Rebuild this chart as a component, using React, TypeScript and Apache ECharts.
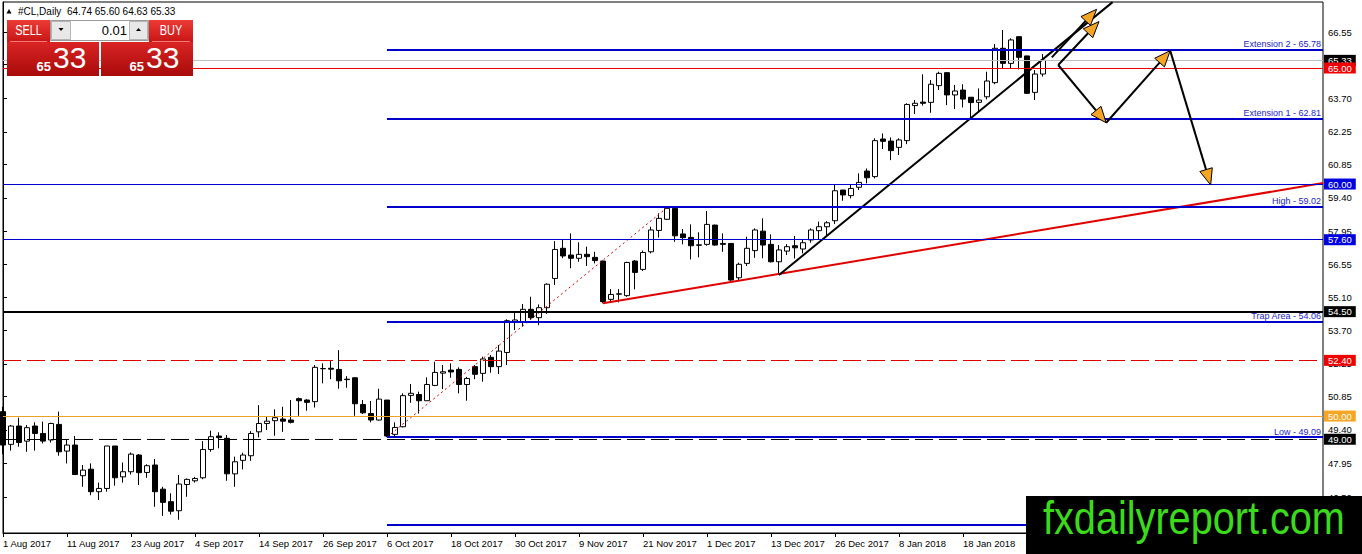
import React, { useEffect, useRef } from "react";
import * as echarts from "echarts";

// ---------- data ----------
const symbolName = "#CL,Daily";
const lotSize = "0.01";

const xTickLabels = [
  "1 Aug 2017", "11 Aug 2017", "23 Aug 2017", "4 Sep 2017", "14 Sep 2017", "26 Sep 2017",
  "6 Oct 2017", "18 Oct 2017", "30 Oct 2017", "9 Nov 2017", "21 Nov 2017", "1 Dec 2017",
  "13 Dec 2017", "26 Dec 2017", "8 Jan 2018", "18 Jan 2018",
];
const barsPerLabel = 8;
const slotCount = 166; // bars plus empty right-side space

const opens = [
  50.19, 48.78, 49.57, 48.92, 49.57, 49.25, 48.97, 49.64, 48.49, 48.75,
  47.43, 47.71, 46.74, 46.88, 48.71, 47.38, 47.60, 48.32, 47.57, 47.89,
  46.85, 46.31, 45.92, 47.05, 47.21, 47.34, 48.56, 49.14, 49.04, 47.51,
  48.09, 48.29, 49.32, 49.68, 49.80, 49.87, 49.83, 50.75, 50.69, 50.62,
  52.04, 52.06, 52.01, 51.59, 51.65, 50.50, 50.11, 49.83, 50.69, 49.21,
  49.54, 50.89, 50.93, 50.66, 51.32, 51.85, 51.98, 52.01, 51.36, 52.13,
  51.84, 52.53, 52.13, 52.74, 54.05, 54.07, 54.60, 54.24, 54.67, 55.93,
  57.23, 56.94, 56.80, 56.97, 56.84, 56.68, 55.03, 55.25, 55.19, 56.68,
  56.32, 57.08, 58.00, 58.48, 58.95, 57.85, 57.70, 57.36, 57.40, 58.23,
  57.44, 57.44, 55.96, 56.58, 57.13, 57.97, 57.40, 56.65, 57.11, 57.34,
  57.20, 57.59, 57.99, 58.16, 58.42, 59.74, 59.50, 59.86, 60.56, 60.32,
  61.94, 61.85, 61.58, 61.87, 63.38, 63.53, 63.52, 64.24, 64.80, 63.84,
  64.05, 63.74, 63.52, 63.76, 64.37, 65.85, 65.20, 66.35, 65.52, 63.95,
  64.74,
];
const highs = [
  50.40, 49.61, 49.93, 49.61, 49.73, 49.76, 49.71, 50.19, 48.97, 49.14,
  47.89, 47.96, 47.13, 48.71, 48.71, 48.00, 48.43, 48.36, 47.92, 48.15,
  46.95, 46.67, 47.46, 47.31, 47.38, 48.92, 49.37, 49.30, 49.18, 48.25,
  48.42, 49.35, 50.47, 49.97, 50.29, 50.40, 50.69, 50.80, 50.73, 52.20,
  52.27, 52.37, 52.84, 51.72, 51.67, 50.69, 50.65, 51.18, 50.69, 49.73,
  50.98, 51.38, 51.05, 51.67, 52.34, 52.20, 52.27, 52.10, 51.69, 52.20,
  52.56, 52.63, 53.06, 54.17, 54.45, 54.83, 55.14, 54.81, 55.72, 57.54,
  57.59, 57.87, 57.49, 57.30, 57.08, 56.70, 55.47, 55.47, 56.65, 56.72,
  57.13, 58.16, 58.74, 58.98, 59.02, 58.06, 58.26, 57.92, 58.84, 58.25,
  57.87, 57.45, 56.61, 57.73, 58.09, 58.52, 57.83, 57.37, 57.41, 57.76,
  57.59, 58.09, 58.38, 58.40, 59.96, 59.75, 59.96, 60.46, 60.67, 61.97,
  62.18, 62.01, 61.97, 63.48, 63.62, 64.73, 64.48, 64.84, 64.81, 64.27,
  64.30, 63.75, 64.12, 64.84, 66.03, 66.64, 66.28, 66.38, 65.53, 64.91,
  65.60,
];
const lows = [
  48.35, 48.51, 48.68, 48.46, 48.51, 48.82, 48.86, 48.29, 47.96, 47.46,
  46.95, 46.59, 46.38, 46.74, 47.00, 47.13, 47.48, 47.03, 47.34, 46.09,
  45.70, 45.76, 45.53, 46.52, 47.13, 47.28, 48.46, 48.61, 47.21, 46.95,
  47.70, 48.07, 49.08, 49.40, 49.15, 49.32, 49.68, 50.01, 50.23, 50.37,
  51.41, 51.59, 51.18, 51.22, 50.01, 50.09, 49.73, 49.81, 49.09, 49.11,
  49.51, 50.57, 50.11, 50.66, 51.29, 51.16, 51.65, 50.98, 50.66, 51.59,
  51.48, 51.87, 51.81, 52.20, 53.71, 53.85, 54.14, 53.92, 54.40, 55.65,
  56.80, 56.37, 56.65, 56.47, 56.58, 54.86, 54.90, 54.90, 55.14, 55.46,
  56.25, 57.01, 57.69, 58.45, 57.51, 57.40, 56.75, 56.84, 57.34, 57.34,
  57.08, 55.83, 55.82, 56.47, 56.82, 56.80, 56.62, 56.11, 56.94, 56.79,
  57.01, 57.47, 57.59, 57.80, 58.28, 59.28, 59.38, 59.74, 60.03, 60.24,
  61.51, 61.03, 61.25, 61.72, 63.02, 63.38, 63.07, 64.05, 63.40, 63.23,
  63.30, 62.86, 63.12, 63.65, 64.30, 64.99, 64.99, 64.94, 63.88, 63.62,
  64.63,
];
const closes = [
  48.75, 49.57, 48.86, 49.50, 49.25, 48.92, 49.68, 48.46, 48.75, 47.48,
  47.67, 46.74, 46.88, 48.71, 47.34, 47.60, 48.36, 47.56, 47.86, 46.74,
  46.28, 45.90, 47.07, 47.27, 47.31, 48.56, 49.11, 49.07, 47.51, 48.03,
  48.32, 49.25, 49.68, 49.78, 49.93, 49.78, 49.73, 50.66, 50.59, 52.10,
  52.05, 52.02, 51.52, 51.57, 50.53, 50.14, 49.83, 50.73, 49.14, 49.51,
  50.88, 50.98, 50.66, 51.36, 51.88, 51.91, 51.90, 51.36, 51.62, 51.80,
  52.46, 52.13, 52.80, 54.11, 54.14, 54.60, 54.24, 54.67, 55.68, 57.18,
  56.90, 56.80, 56.97, 56.87, 56.70, 54.93, 55.24, 55.27, 56.62, 56.19,
  57.05, 58.02, 58.52, 58.95, 57.77, 57.69, 57.34, 57.38, 58.26, 57.37,
  57.40, 55.86, 56.54, 57.23, 58.02, 57.37, 56.65, 57.16, 57.30, 57.25,
  57.47, 58.02, 58.16, 58.33, 59.71, 59.53, 59.81, 60.07, 60.27, 61.87,
  61.84, 61.44, 61.90, 63.43, 63.48, 63.48, 64.30, 64.77, 63.84, 64.01,
  63.66, 63.51, 63.62, 64.44, 65.85, 65.20, 66.21, 65.46, 63.91, 64.74,
  65.33,
];

const yTickValues = [66.55, 65.15, 63.70, 62.25, 60.85, 59.40, 57.95, 56.55, 55.10, 53.70, 52.25, 50.85, 49.40, 47.95, 46.50];
const yMin = 44.96;
const yMax = 67.845;

const levelValues = [65.0, 60.0, 57.6, 54.5, 52.4, 50.0, 49.0];
const bidValue = 65.33;

const fiboValues = [65.78, 62.81, 59.02, 54.06, 49.09, 45.3];
const fiboNames = ["Extension 2", "Extension 1", "High", "Trap Area", "Low", ""];
const fiboStartBar = 48;

const redTrend = [[75, 54.86], [165, 60.04]];
const redDotted = [[48, 49.09], [83, 58.98]];
const blackTrend = [[97, 56.08], [138.7, 67.84]];
const arrowSegments = [
  [131.1, 65.46, 136.7, 67.53],
  [131.9, 65.13, 137.0, 67.0],
  [131.9, 65.13, 137.9, 62.64],
  [137.9, 62.64, 145.9, 65.75],
  [145.9, 65.75, 150.96, 59.96],
];

// ---------- styles ----------
const FONT = '"Liberation Sans", Arial, sans-serif';
const levelStyles = [
  { color: "#F00000", width: 1, type: "solid" as any, box: "#F00000" },
  { color: "#0000CD", width: 1, type: "solid" as any, box: "#0000E0" },
  { color: "#0000CD", width: 1, type: "solid" as any, box: "#0000E0" },
  { color: "#000000", width: 2, type: "solid" as any, box: "#000000" },
  { color: "#E00000", width: 1, type: [18, 6] as any, box: "#F00000" },
  { color: "#EFA02A", width: 1, type: "solid" as any, box: "#F5A623" },
  { color: "#000000", width: 1, type: [18, 6] as any, box: "#000000" },
];

function boxLabel(v: number, bg: string) {
  return {
    show: true,
    position: "end",
    distance: 1,
    formatter: v.toFixed(2),
    backgroundColor: bg,
    color: "#ffffff",
    padding: [1, 4, 0, 4],
    fontSize: 9.5,
    lineHeight: 10,
    fontFamily: FONT,
  };
}

function redGrad(c1: string, c2: string) {
  return new echarts.graphic.LinearGradient(0, 0, 0, 1, [
    { offset: 0, color: c1 },
    { offset: 1, color: c2 },
  ]);
}

export default function App() {
  const ref = useRef<HTMLDivElement>(null);

  useEffect(() => {
    document.body.style.margin = "0";
    if (!ref.current) return;
    const chart = echarts.init(ref.current, null, { renderer: "svg" });

    const n = closes.length - 1;
    const ohlcText = `${opens[n].toFixed(2)} ${highs[n].toFixed(2)} ${lows[n].toFixed(2)} ${closes[n].toFixed(2)}`;
    const [bidBig0, bidSmall] = closes[n].toFixed(2).split(".");

    const categories = Array.from({ length: slotCount }, (_, i) => String(i));
    const showTick = (i: number) => i % barsPerLabel === 0 && i / barsPerLabel < xTickLabels.length;

    const candleData = opens.map((o, i) => [o, closes[i], lows[i], highs[i]]);

    const markData: any[] = [];
    markData.push({
      yAxis: bidValue,
      lineStyle: { color: "#C0C0C0", width: 1, type: "solid" },
      label: boxLabel(bidValue, "#000000"),
    });
    levelValues.forEach((v, i) => {
      const s = levelStyles[i];
      markData.push({
        yAxis: v,
        lineStyle: { color: s.color, width: s.width, type: s.type },
        label: boxLabel(v, s.box),
      });
    });
    fiboValues.forEach((v, i) => {
      const name = fiboNames[i];
      markData.push([
        {
          coord: [fiboStartBar, v],
          lineStyle: { color: "#0000CD", width: 2, type: "solid" },
          label: {
            show: !!name,
            position: "insideEndTop",
            distance: [2, 1],
            formatter: name ? `${name} - ${v.toFixed(2)}` : "",
            color: "#2323CC",
            fontSize: 9,
            fontFamily: FONT,
          },
        },
        { coord: [slotCount - 1, v] },
      ]);
    });

    const option: any = {
      animation: false,
      backgroundColor: "#ffffff",
      textStyle: { fontFamily: FONT },
      grid: {
        left: 3,
        right: 39,
        top: 2,
        bottom: 21,
        show: true,
        borderColor: "#000",
        borderWidth: 1,
        backgroundColor: "#fff",
      },
      xAxis: [
        {
          type: "category",
          data: categories,
          boundaryGap: false,
          axisLine: { show: true, lineStyle: { color: "#000", width: 1 } },
          axisTick: { show: true, interval: showTick, length: 4, lineStyle: { color: "#000" } },
          axisLabel: {
            interval: showTick,
            formatter: (_v: string, i: number) => xTickLabels[i / barsPerLabel] ?? "",
            align: "left",
            margin: 5,
            fontSize: 9.5,
            color: "#000",
            fontFamily: FONT,
          },
          splitLine: { show: false },
        },
        { type: "value", min: 0, max: slotCount - 1, show: false },
      ],
      yAxis: {
        type: "value",
        position: "right",
        min: yMin,
        max: yMax,
        axisLine: { show: true, lineStyle: { color: "#000" } },
        axisTick: { show: true, length: 4, customValues: yTickValues, lineStyle: { color: "#000" } },
        axisLabel: {
          customValues: yTickValues,
          formatter: (v: number) => v.toFixed(2),
          margin: 5,
          fontSize: 9.5,
          color: "#000",
          fontFamily: FONT,
        },
        splitLine: { show: false },
      },
      series: [
        {
          type: "candlestick",
          xAxisIndex: 0,
          yAxisIndex: 0,
          data: candleData,
          barWidth: 5,
          clip: false,
          silent: true,
          itemStyle: {
            color: "#ffffff",
            color0: "#000000",
            borderColor: "#000000",
            borderColor0: "#000000",
            borderWidth: 1,
          },
        },
        {
          type: "line",
          xAxisIndex: 1,
          yAxisIndex: 0,
          data: redDotted,
          symbol: "none",
          silent: true,
          z: 3,
          lineStyle: { color: "#E00000", width: 1, type: [2, 3] },
        },
        {
          type: "line",
          xAxisIndex: 1,
          yAxisIndex: 0,
          data: redTrend,
          symbol: "none",
          silent: true,
          z: 3,
          lineStyle: { color: "#E00000", width: 2 },
          markLine: {
            silent: true,
            symbol: ["none", "none"],
            animation: false,
            data: markData,
          },
        },
        {
          type: "line",
          xAxisIndex: 1,
          yAxisIndex: 0,
          data: blackTrend,
          symbol: "none",
          silent: true,
          z: 4,
          lineStyle: { color: "#000000", width: 2 },
        },
        {
          type: "custom",
          xAxisIndex: 1,
          yAxisIndex: 0,
          data: arrowSegments,
          encode: { x: [0, 2], y: [1, 3] },
          clip: false,
          silent: true,
          z: 6,
          renderItem: (_params: any, api: any) => {
            const p1 = api.coord([api.value(0), api.value(1)]);
            const p2 = api.coord([api.value(2), api.value(3)]);
            const dx = p2[0] - p1[0];
            const dy = p2[1] - p1[1];
            const len = Math.hypot(dx, dy) || 1;
            const ux = dx / len;
            const uy = dy / len;
            const L = 16;
            const W = 6.5;
            const bx = p2[0] - ux * L;
            const by = p2[1] - uy * L;
            return {
              type: "group",
              children: [
                {
                  type: "line",
                  shape: { x1: p1[0], y1: p1[1], x2: bx, y2: by },
                  style: { stroke: "#000", lineWidth: 2 },
                },
                {
                  type: "polygon",
                  shape: {
                    points: [
                      [p2[0], p2[1]],
                      [bx - uy * W, by + ux * W],
                      [bx + uy * W, by - ux * W],
                    ],
                  },
                  style: { fill: "#F5A524", stroke: "#000", lineWidth: 1 },
                },
              ],
            };
          },
        },
      ],
      graphic: [
        // header
        { type: "polygon", z: 100, shape: { points: [[6.5, 13.5], [11.5, 13.5], [9, 9]] }, style: { fill: "#000" } },
        { type: "text", z: 100, x: 18, y: 11.5, style: { text: symbolName, fill: "#000", font: `10px ${FONT}`, verticalAlign: "middle" } },
        { type: "text", z: 100, x: 67, y: 11.5, style: { text: ohlcText, fill: "#000", font: `10px ${FONT}`, verticalAlign: "middle" } },
        // SELL button
        { type: "rect", z: 100, shape: { x: 7, y: 20, width: 43, height: 22 }, style: { fill: redGrad("#EC3A36", "#C81616") } },
        { type: "line", z: 101, shape: { x1: 10, y1: 41.5, x2: 47, y2: 41.5 }, style: { stroke: "#F07a7a", lineWidth: 1 } },
        { type: "text", z: 101, x: 28.5, y: 31, scaleX: 0.78, style: { text: "SELL", fill: "#fff", font: `14px ${FONT}`, align: "center", verticalAlign: "middle" } },
        // lot control
        { type: "rect", z: 100, shape: { x: 50.5, y: 20.5, width: 98, height: 20 }, style: { fill: "#fff", stroke: "#9A9A9A", lineWidth: 1 } },
        { type: "rect", z: 101, shape: { x: 51.5, y: 21.5, width: 19, height: 18 }, style: { fill: "#E8E8E8", stroke: "#B5B5B5", lineWidth: 1 } },
        { type: "polygon", z: 102, shape: { points: [[58.5, 28], [63.5, 28], [61, 31]] }, style: { fill: "#000" } },
        { type: "text", z: 101, x: 127, y: 30.5, style: { text: lotSize, fill: "#000", font: `13px ${FONT}`, align: "right", verticalAlign: "middle" } },
        { type: "rect", z: 101, shape: { x: 129.5, y: 21.5, width: 18, height: 18 }, style: { fill: "#E8E8E8", stroke: "#B5B5B5", lineWidth: 1 } },
        { type: "polygon", z: 102, shape: { points: [[136, 31], [141, 31], [138.5, 28]] }, style: { fill: "#000" } },
        // BUY button
        { type: "rect", z: 100, shape: { x: 149, y: 20, width: 44, height: 22 }, style: { fill: redGrad("#EC3A36", "#C81616") } },
        { type: "line", z: 101, shape: { x1: 152, y1: 41.5, x2: 190, y2: 41.5 }, style: { stroke: "#F07a7a", lineWidth: 1 } },
        { type: "text", z: 101, x: 171, y: 31, scaleX: 0.78, style: { text: "BUY", fill: "#fff", font: `14px ${FONT}`, align: "center", verticalAlign: "middle" } },
        // price boxes
        { type: "rect", z: 100, shape: { x: 7, y: 42, width: 92, height: 34 }, style: { fill: redGrad("#DA2424", "#A80A0A") } },
        { type: "rect", z: 100, shape: { x: 101, y: 42, width: 92, height: 34 }, style: { fill: redGrad("#DA2424", "#A80A0A") } },
        { type: "text", z: 101, x: 51, y: 66, style: { text: bidBig0, fill: "#fff", font: `bold 13px ${FONT}`, align: "right", verticalAlign: "middle" } },
        { type: "text", z: 101, x: 53, y: 57.5, style: { text: bidSmall, fill: "#fff", font: `30px ${FONT}`, align: "left", verticalAlign: "middle" } },
        { type: "text", z: 101, x: 144, y: 66, style: { text: bidBig0, fill: "#fff", font: `bold 13px ${FONT}`, align: "right", verticalAlign: "middle" } },
        { type: "text", z: 101, x: 146, y: 57.5, style: { text: bidSmall, fill: "#fff", font: `30px ${FONT}`, align: "left", verticalAlign: "middle" } },
        // logo
        { type: "rect", z: 110, shape: { x: 1026, y: 496, width: 336, height: 58 }, style: { fill: "#000" } },
        { type: "text", z: 111, x: 1043, y: 518, scaleX: 0.862, style: { text: "fxdailyreport.com", fill: "#3BDB1A", font: `46px ${FONT}`, align: "left", verticalAlign: "middle" } },
      ],
    };

    chart.setOption(option);
    return () => chart.dispose();
  }, []);

  return <div ref={ref} style={{ width: 1362, height: 554 }} />;
}
